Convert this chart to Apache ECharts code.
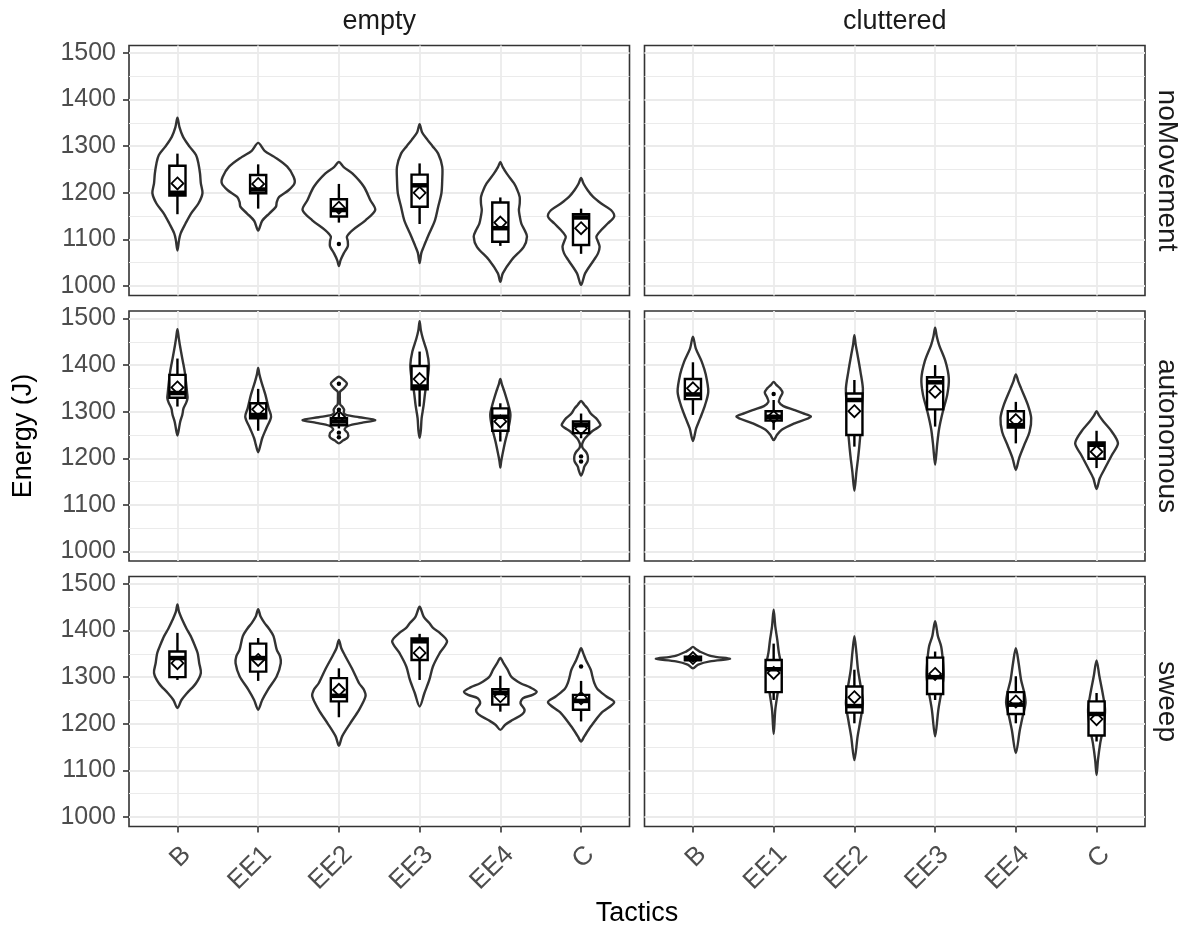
<!DOCTYPE html>
<html><head><meta charset="utf-8">
<script src="https://cdn.jsdelivr.net/npm/echarts@6/dist/echarts.min.js"></script>
<style>html,body{margin:0;padding:0;background:#fff}#c{width:1184px;height:933px}</style>
</head><body><div id="c"></div>
<script>
const tactics = ['B','EE1','EE2','EE3','EE4','C'];
const columns = ['empty','cluttered'];
const rows = ['noMovement','autonomous','sweep'];
const yTicks = [1000,1100,1200,1300,1400,1500];
const yMinorTicks = [1050,1150,1250,1350,1450];
const xTicks = [1,2,3,4,5,6];

// violin outlines: [energy, half width in category units], bottom tip to top tip
const violinNoMovementEmpty = [
  [[1076,0],[1099,0.02],[1113,0.04],[1134,0.10],[1156,0.17],[1177,0.26],[1199,0.31],[1220,0.29],[1241,0.28],[1263,0.26],[1281,0.23],[1299,0.15],[1320,0.07],[1341,0.025],[1361,0]],
  [[1119,0],[1140,0.05],[1156,0.14],[1170,0.22],[1180,0.23],[1191,0.26],[1206,0.38],[1220,0.45],[1234,0.44],[1256,0.36],[1277,0.20],[1290,0.08],[1307,0]],
  [[1043,0],[1055,0.02],[1070,0.06],[1085,0.11],[1096,0.11],[1106,0.10],[1120,0.17],[1141,0.33],[1163,0.45],[1184,0.39],[1213,0.31],[1241,0.17],[1255,0.06],[1266,0]],
  [[1049,0],[1070,0.02],[1084,0.05],[1113,0.12],[1141,0.19],[1170,0.23],[1199,0.27],[1227,0.28],[1256,0.28],[1284,0.23],[1300,0.16],[1313,0.10],[1330,0.03],[1347,0]],
  [[1009,0],[1027,0.03],[1056,0.14],[1084,0.29],[1106,0.33],[1120,0.30],[1134,0.26],[1150,0.24],[1163,0.23],[1177,0.24],[1191,0.24],[1206,0.21],[1220,0.17],[1241,0.08],[1255,0.03],[1266,0]],
  [[1002,0],[1027,0.05],[1056,0.16],[1070,0.21],[1084,0.23],[1095,0.21],[1106,0.19],[1120,0.25],[1134,0.33],[1149,0.41],[1163,0.37],[1177,0.25],[1191,0.15],[1206,0.08],[1220,0.03],[1232,0]]
];
const boxNoMovementEmpty = [[1154,1194,1200,1258,1284],[1166,1199,1207,1238,1261],[1136,1149,1163,1186,1219],[1133,1170,1216,1239,1263],[1086,1095,1124,1179,1190],[1069,1088,1147,1154,1166]];
const meanNoMovementEmpty = [1220,1219,1168,1200,1136,1124];
const outlierNoMovementEmpty = [[],[],[1090],[],[],[]];

const violinAutonomousEmpty = [
  [[1249,0],[1265,0.02],[1279,0.035],[1293,0.06],[1307,0.075],[1320,0.11],[1329,0.125],[1340,0.12],[1357,0.11],[1386,0.09],[1414,0.06],[1443,0.03],[1460,0.015],[1477,0]],
  [[1213,0],[1230,0.03],[1243,0.05],[1264,0.10],[1289,0.16],[1307,0.13],[1336,0.09],[1364,0.04],[1380,0.015],[1394,0]],
  [[1232,0],[1238,0.05],[1245,0.11],[1254,0.11],[1262,0.07],[1270,0.12],[1276,0.28],[1282,0.45],[1288,0.25],[1293,0.09],[1298,0.06],[1304,0.065],[1310,0.045],[1316,0.015],[1330,0.012],[1343,0.015],[1350,0.06],[1360,0.10],[1368,0.06],[1375,0]],
  [[1244,0],[1260,0.015],[1286,0.025],[1314,0.05],[1343,0.07],[1371,0.10],[1400,0.115],[1429,0.09],[1457,0.04],[1475,0.015],[1494,0]],
  [[1180,0],[1193,0.01],[1207,0.025],[1236,0.06],[1264,0.10],[1293,0.125],[1314,0.10],[1343,0.05],[1358,0.02],[1370,0]],
  [[1163,0],[1175,0.03],[1182,0.04],[1193,0.08],[1200,0.085],[1207,0.08],[1214,0.06],[1222,0.02],[1229,0.012],[1236,0.025],[1243,0.05],[1257,0.13],[1265,0.20],[1271,0.24],[1278,0.22],[1286,0.185],[1296,0.12],[1307,0.08],[1315,0.04],[1323,0]]
];
const boxAutonomousEmpty = [[1311,1330,1340,1379,1414],[1259,1286,1293,1318,1349],[1264,1271,1279,1286,1298],[1311,1348,1354,1398,1429],[1236,1259,1289,1307,1318],[1243,1254,1271,1279,1296]];
const meanAutonomousEmpty = [1352,1305,1289,1370,1279,1264];
const outlierAutonomousEmpty = [[],[],[1360,1304,1255,1245],[],[],[1204,1193]];

const violinSweepEmpty = [
  [[1234,0],[1251,0.05],[1266,0.12],[1287,0.23],[1309,0.29],[1330,0.27],[1352,0.25],[1370,0.21],[1388,0.165],[1405,0.11],[1423,0.06],[1440,0.02],[1456,0]],
  [[1230,0],[1251,0.05],[1273,0.12],[1302,0.23],[1330,0.28],[1345,0.27],[1359,0.23],[1388,0.19],[1405,0.13],[1416,0.08],[1430,0.03],[1446,0]],
  [[1153,0],[1173,0.04],[1201,0.14],[1230,0.25],[1259,0.33],[1273,0.31],[1287,0.25],[1316,0.17],[1345,0.08],[1362,0.03],[1380,0]],
  [[1237,0],[1266,0.06],[1294,0.12],[1323,0.165],[1352,0.25],[1377,0.34],[1395,0.25],[1405,0.17],[1416,0.12],[1430,0.05],[1451,0]],
  [[1187,0],[1198,0.06],[1208,0.15],[1220,0.27],[1230,0.30],[1244,0.25],[1255,0.28],[1262,0.40],[1269,0.45],[1278,0.37],[1287,0.25],[1300,0.14],[1316,0.09],[1330,0.04],[1341,0]],
  [[1162,0],[1173,0.04],[1194,0.12],[1223,0.25],[1246,0.41],[1259,0.31],[1275,0.20],[1287,0.165],[1302,0.14],[1316,0.12],[1337,0.06],[1350,0.03],[1362,0]]
];
const boxSweepEmpty = [[1294,1300,1341,1355,1395],[1292,1312,1341,1372,1384],[1214,1248,1260,1298,1319],[1294,1337,1377,1383,1393],[1226,1241,1266,1274,1303],[1205,1230,1249,1262,1292]];
const meanSweepEmpty = [1330,1337,1273,1352,1259,1255];
const outlierSweepEmpty = [[],[],[],[],[],[1323]];

const violinAutonomousCluttered = [
  [[1237,0],[1264,0.04],[1286,0.09],[1314,0.15],[1343,0.19],[1379,0.16],[1407,0.11],[1436,0.035],[1461,0]],
  [[1239,0],[1250,0.04],[1261,0.10],[1275,0.26],[1289,0.46],[1297,0.36],[1304,0.25],[1312,0.12],[1321,0.065],[1330,0.08],[1341,0.11],[1350,0.08],[1358,0.03],[1364,0]],
  [[1130,0],[1171,0.025],[1207,0.05],[1243,0.07],[1279,0.085],[1314,0.095],[1350,0.105],[1386,0.075],[1421,0.04],[1445,0.015],[1464,0]],
  [[1186,0],[1229,0.025],[1264,0.05],[1300,0.095],[1336,0.15],[1371,0.17],[1407,0.13],[1443,0.05],[1462,0.02],[1480,0]],
  [[1175,0],[1200,0.04],[1229,0.105],[1257,0.17],[1286,0.19],[1314,0.15],[1350,0.065],[1365,0.03],[1380,0]],
  [[1134,0],[1157,0.04],[1179,0.105],[1207,0.19],[1232,0.265],[1257,0.19],[1279,0.085],[1292,0.03],[1301,0]]
];
const boxAutonomousCluttered = [[1293,1327,1337,1370,1406],[1261,1281,1289,1301,1325],[1225,1250,1325,1339,1368],[1268,1305,1363,1374,1400],[1232,1266,1271,1301,1321],[1179,1199,1229,1234,1259]];
const meanAutonomousCluttered = [1350,1289,1301,1343,1282,1214];
const outlierAutonomousCluttered = [[],[1338],[],[],[],[]];

const violinSweepCluttered = [
  [[1319,0],[1327,0.065],[1334,0.21],[1339,0.46],[1345,0.23],[1355,0.085],[1360,0.04],[1365,0]],
  [[1178,0],[1230,0.02],[1266,0.05],[1294,0.075],[1323,0.095],[1352,0.065],[1380,0.045],[1409,0.02],[1445,0]],
  [[1122,0],[1173,0.04],[1208,0.075],[1244,0.105],[1273,0.085],[1316,0.045],[1352,0.025],[1388,0]],
  [[1173,0],[1230,0.04],[1266,0.075],[1302,0.105],[1337,0.095],[1366,0.075],[1388,0.035],[1420,0]],
  [[1137,0],[1187,0.05],[1216,0.085],[1244,0.12],[1266,0.105],[1294,0.065],[1330,0.035],[1362,0]],
  [[1090,0],[1122,0.017],[1158,0.045],[1194,0.085],[1230,0.105],[1266,0.075],[1302,0.035],[1336,0]]
];
const boxSweepCluttered = [[1332,1336,1340,1344,1348],[1251,1268,1317,1337,1372],[1201,1224,1238,1280,1316],[1251,1264,1300,1342,1355],[1201,1221,1241,1268,1302],[1162,1175,1221,1248,1266]];
const meanSweepCluttered = [1341,1309,1257,1307,1248,1210];
const outlierSweepCluttered = [[],[],[],[],[],[]];

const panels = [
  {row:0,col:0,violin:violinNoMovementEmpty,box:boxNoMovementEmpty,mean:meanNoMovementEmpty,out:outlierNoMovementEmpty},
  {row:0,col:1,violin:null},
  {row:1,col:0,violin:violinAutonomousEmpty,box:boxAutonomousEmpty,mean:meanAutonomousEmpty,out:outlierAutonomousEmpty},
  {row:1,col:1,violin:violinAutonomousCluttered,box:boxAutonomousCluttered,mean:meanAutonomousCluttered,out:outlierAutonomousCluttered},
  {row:2,col:0,violin:violinSweepEmpty,box:boxSweepEmpty,mean:meanSweepEmpty,out:outlierSweepEmpty},
  {row:2,col:1,violin:violinSweepCluttered,box:boxSweepCluttered,mean:meanSweepCluttered,out:outlierSweepCluttered}
];

const FONT = '"Liberation Sans", Arial, Helvetica, sans-serif';
const colLeft = [129, 644.5];
const rowTop = [45.5, 311, 576.5];
const PW = 500.5, PH = 250;
const Y_MIN = 979.6, Y_MAX = 1516;

const grids = [], xAxes = [], yAxes = [], series = [];
panels.forEach((p, g) => {
  grids.push({left: colLeft[p.col], top: rowTop[p.row], width: PW, height: PH,
    show: true, borderColor: '#333333', borderWidth: 1.6, backgroundColor: '#fff', outerBoundsMode: 'none'});
  const bottom = p.row === 2, leftCol = p.col === 0;
  xAxes.push({gridIndex: g, type: 'value', min: 0.4, max: 6.6,
    axisLine: {show: false},
    axisTick: {show: bottom, customValues: xTicks, length: 6, lineStyle: {color: '#333333', width: 1.6}},
    axisLabel: {show: bottom, customValues: xTicks, rotate: 45, margin: 15, align: 'right', verticalAlign: 'top',
      fontSize: 26, fontFamily: FONT, color: '#4d4d4d',
      formatter: v => (Number.isInteger(v) && v >= 1 && v <= 6) ? tactics[v - 1] : ''},
    splitLine: {show: true, lineStyle: {color: '#ebebeb', width: 1.8}}});
  yAxes.push({gridIndex: g, type: 'value', min: Y_MIN, max: Y_MAX, position: 'left',
    axisLine: {show: false},
    axisTick: {show: leftCol, customValues: yTicks, length: 6, lineStyle: {color: '#333333', width: 1.6}},
    axisLabel: {show: leftCol, customValues: yTicks, margin: 13, fontSize: 25, fontFamily: FONT, color: '#4d4d4d',
      formatter: v => (v % 100 === 0) ? String(v) : ''},
    splitLine: {show: true, lineStyle: {color: '#ebebeb', width: 1.8}}});
  yAxes.push({gridIndex: g, type: 'value', min: Y_MIN, max: Y_MAX, position: 'right',
    axisLine: {show: false}, axisTick: {show: false, customValues: yMinorTicks},
    axisLabel: {show: false, customValues: yMinorTicks},
    splitLine: {show: true, lineStyle: {color: '#ebebeb', width: 1}}});
  if (!p.violin) return;
  series.push({
    type: 'custom', xAxisIndex: g, yAxisIndex: 2 * g, clip: false,
    data: tactics.map((t, i) => [i + 1, p.box[i][2]]),
    encode: {x: 0, y: 1},
    renderItem: (params, api) => {
      const i = params.dataIndex, x = i + 1;
      const v = p.violin[i];
      const right = v.map(q => api.coord([x + q[1], q[0]]));
      const left = v.slice().reverse().map(q => api.coord([x - q[1], q[0]]));
      const pts = right.concat(left.slice(1, -1));
      const b = p.box[i], hw = 0.1;
      const a = api.coord([x - hw, b[3]]), c = api.coord([x + hw, b[1]]);
      const cx = api.coord([x, b[2]])[0];
      const yLo = api.coord([x, b[0]])[1], yHi = api.coord([x, b[4]])[1], yMed = api.coord([x, b[2]])[1];
      const ch = [
        {type: 'polygon', shape: {points: pts, smooth: 0.3}, style: {fill: '#fff', stroke: '#333333', lineWidth: 2.4}},
        {type: 'line', shape: {x1: cx, y1: yHi, x2: cx, y2: a[1]}, style: {stroke: '#000', lineWidth: 2.4}},
        {type: 'line', shape: {x1: cx, y1: c[1], x2: cx, y2: yLo}, style: {stroke: '#000', lineWidth: 2.4}},
        {type: 'rect', shape: {x: a[0], y: a[1], width: c[0] - a[0], height: c[1] - a[1]}, style: {fill: '#fff', stroke: '#000', lineWidth: 2.4}},
        {type: 'line', shape: {x1: a[0], y1: yMed, x2: c[0], y2: yMed}, style: {stroke: '#000', lineWidth: 4.5}}
      ];
      p.out[i].forEach(o => {
        const q = api.coord([x, o]);
        ch.push({type: 'circle', shape: {cx: q[0], cy: q[1], r: 2.2}, style: {fill: '#000'}});
      });
      const m = api.coord([x, p.mean[i]]), d = 6;
      ch.push({type: 'polygon', shape: {points: [[m[0], m[1] - d], [m[0] + d, m[1]], [m[0], m[1] + d], [m[0] - d, m[1]]]},
        style: {fill: 'none', stroke: '#000', lineWidth: 1.8}});
      return {type: 'group', children: ch};
    }
  });
});

const graphics = [];
columns.forEach((name, c) => {
  graphics.push({type: 'text', x: colLeft[c] + PW / 2, y: 22,
    style: {text: name, fontSize: 27, fontFamily: FONT, fill: '#1a1a1a', align: 'center', verticalAlign: 'middle'}});
});
rows.forEach((name, r) => {
  graphics.push({type: 'text', x: 1167, y: rowTop[r] + PH / 2, rotation: -Math.PI / 2,
    style: {text: name, fontSize: 28, fontFamily: FONT, fill: '#1a1a1a', align: 'center', verticalAlign: 'middle'}});
});
graphics.push({type: 'text', x: 637, y: 914,
  style: {text: 'Tactics', fontSize: 27, fontFamily: FONT, fill: '#000', align: 'center', verticalAlign: 'middle'}});
graphics.push({type: 'text', x: 24, y: 436, rotation: Math.PI / 2,
  style: {text: 'Energy (J)', fontSize: 27, fontFamily: FONT, fill: '#000', align: 'center', verticalAlign: 'middle'}});

const chart = echarts.init(document.getElementById('c'), null, {renderer: 'canvas', width: 1184, height: 933});
chart.setOption({
  animation: false,
  backgroundColor: '#fff',
  grid: grids, xAxis: xAxes, yAxis: yAxes, series: series, graphic: graphics
});
</script></body></html>
